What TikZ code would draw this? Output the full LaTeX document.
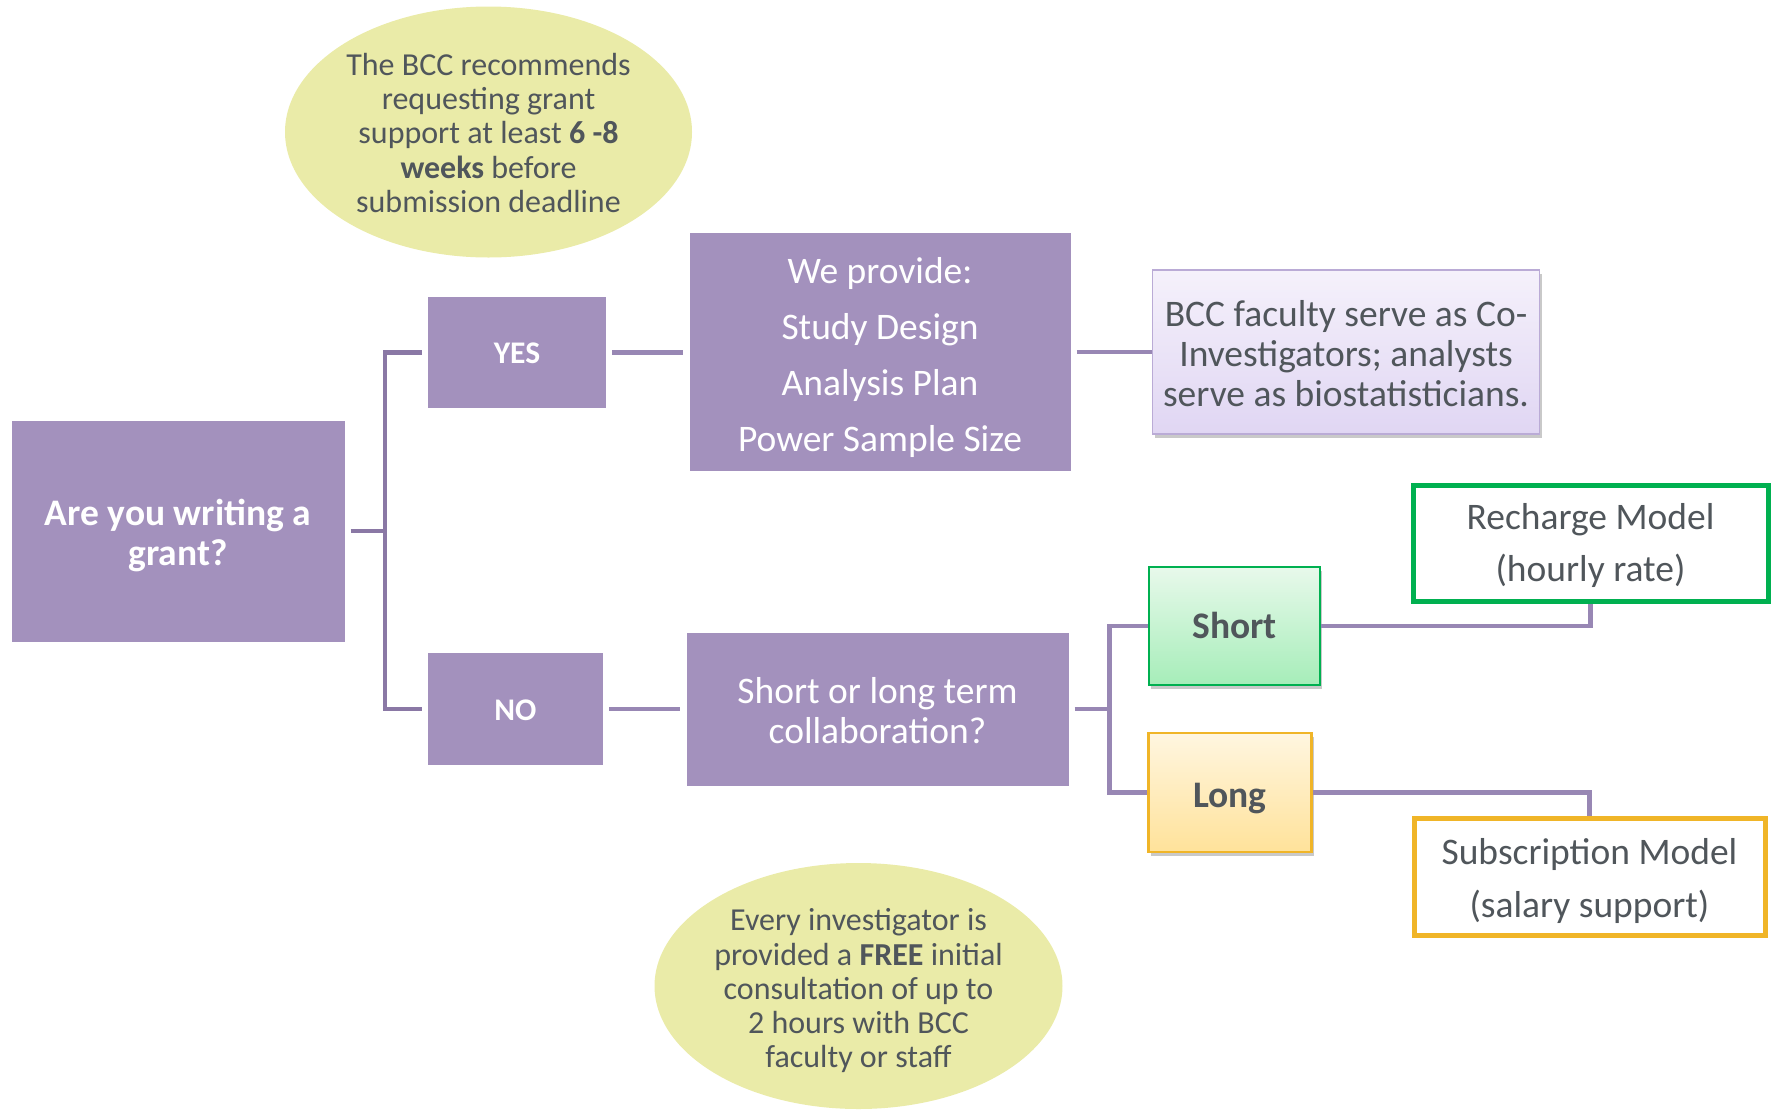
\documentclass[tikz,border=0pt]{standalone}
\usepackage{fontspec}
\setmainfont{Carlito}
\usetikzlibrary{shapes.geometric,shadows}
\definecolor{purp}{RGB}{163,145,189}
\definecolor{connc}{RGB}{152,135,180}
\definecolor{connd}{RGB}{138,120,165}
\definecolor{txtg}{RGB}{80,86,91}
\definecolor{ellf}{RGB}{234,235,168}
\definecolor{grn}{RGB}{0,176,80}
\definecolor{org}{RGB}{240,181,40}
\definecolor{lavb}{RGB}{186,171,214}
\definecolor{lavt}{RGB}{245,241,251}
\definecolor{lavbot}{RGB}{224,214,243}
\definecolor{grt}{RGB}{232,249,235}
\definecolor{grb}{RGB}{166,237,185}
\definecolor{ort}{RGB}{255,246,224}
\definecolor{orb}{RGB}{255,226,154}
\newcommand{\ctext}[2][6pt]{\raisebox{-#1}[\height][\depth]{\begin{tabular}{@{}c@{}}#2\end{tabular}}}
\tikzset{
  purpbox/.style={rectangle, fill=purp, text=white, inner sep=0pt},
  bigtxt/.style={font=\fontsize{37.5}{40}\selectfont},
  noteell/.style={ellipse, fill=ellf, text=txtg, inner sep=0pt, font=\fontsize{32}{34.3}\selectfont},
  conn/.style={draw=connc, line width=4.5pt, line join=miter},
  connL/.style={draw=connd, line width=4.8pt, line join=miter},
  shad/.style={drop shadow={shadow xshift=2pt, shadow yshift=-4pt, opacity=0.3, fill=black!70}},
}
\begin{document}
\begin{tikzpicture}[x=1pt,y=-1pt]
\useasboundingbox (0,0) rectangle (1777,1109);
% notes
\node[noteell, minimum width=407pt, minimum height=251pt] (n1) at (488.5,132)
  {\ctext[5pt]{The BCC recommends\\requesting grant\\support at least \textbf{6 -8}\\\textbf{weeks} before\\submission deadline}};
\node[noteell, minimum width=407pt, minimum height=246pt] (n2) at (858.5,986)
  {\ctext[6.5pt]{Every investigator is\\provided a \textbf{FREE} initial\\consultation of up to\\2 hours with BCC\\faculty or staff}};
% purple boxes
\node[purpbox, font=\fontsize{37.5}{40}\selectfont\bfseries, minimum width=333pt, minimum height=221pt] (grant) at (178,531) {\ctext[6.5pt]{Are you writing a\\grant?}};
\node[purpbox, font=\fontsize{31.5}{34}\selectfont\bfseries, minimum width=178pt, minimum height=111pt] (yes) at (517,352.5) {\ctext[4.5pt]{YES}};
\node[purpbox, font=\fontsize{31.5}{34}\selectfont\bfseries, minimum width=175pt, minimum height=112pt] (no) at (515.5,709) {\ctext[5pt]{NO}};
\node[purpbox, font=\fontsize{37.5}{56}\selectfont, minimum width=381pt, minimum height=238pt] (wp) at (880,352)
  {\ctext[4pt]{We provide:\\Study Design\\Analysis Plan\\Power Sample Size}};
\node[purpbox, bigtxt, minimum width=382pt, minimum height=153pt] (slt) at (877.5,709)
  {\ctext[6.5pt]{Short or long term\\collaboration?}};
% BCC box
\node[rectangle, shad, draw=lavb, line width=1.5pt, top color=lavt, bottom color=lavbot, text=txtg, inner sep=0pt, bigtxt, minimum width=387pt, minimum height=164pt] (bcc) at (1346,352)
  {\ctext[6pt]{BCC faculty serve as Co-\\Investigators; analysts\\serve as biostatisticians.}};
% short / long
\node[rectangle, shad, draw=grn, line width=2.5pt, top color=grt, bottom color=grb, text=txtg, inner sep=0pt, font=\fontsize{37.5}{40}\selectfont\bfseries, minimum width=171pt, minimum height=118pt] (short) at (1234.5,626) {\ctext[4.5pt]{Short}};
\node[rectangle, shad, draw=org, line width=2.5pt, top color=ort, bottom color=orb, text=txtg, inner sep=0pt, font=\fontsize{37.5}{40}\selectfont\bfseries, minimum width=163pt, minimum height=119pt] (long) at (1230,792.5) {\ctext[6.5pt]{Long}};
% models
\node[rectangle, draw=grn, line width=5pt, fill=white, text=txtg, inner sep=0pt, font=\fontsize{37.5}{52}\selectfont, minimum width=355pt, minimum height=116pt] (rech) at (1590.5,543)
  {\ctext[2.5pt]{Recharge Model\\(hourly rate)}};
\node[rectangle, draw=org, line width=5pt, fill=white, text=txtg, inner sep=0pt, font=\fontsize{37.5}{53}\selectfont, minimum width=351pt, minimum height=117pt] (subs) at (1589.5,876.5)
  {\ctext[3.5pt]{Subscription Model\\(salary support)}};
% connectors
\coordinate (jL) at (385,531);
\draw[connL, shorten <=6pt] (grant.east) -- (jL);
\draw[connL, shorten >=6pt] (jL) |- (yes.west);
\draw[connL, shorten >=6pt] (jL) |- (no.west);
\draw[conn, shorten <=6pt, shorten >=6pt] (yes.east) -- (yes.east -| wp.west);
\draw[conn, shorten <=6pt, shorten >=6pt] (no.east) -- (no.east -| slt.west);
\draw[conn, shorten <=6pt] (wp.east) -- (wp.east -| bcc.west);
\coordinate (jR) at (1109.5,709);
\draw[conn, shorten <=6pt] (slt.east) -- (jR);
\draw[conn] (jR) |- (short.west);
\draw[conn] (jR) |- (long.west);
\draw[conn] (short.east) -| (rech.south);
\draw[conn] (long.east) -| (subs.north);
\end{tikzpicture}
\end{document}
